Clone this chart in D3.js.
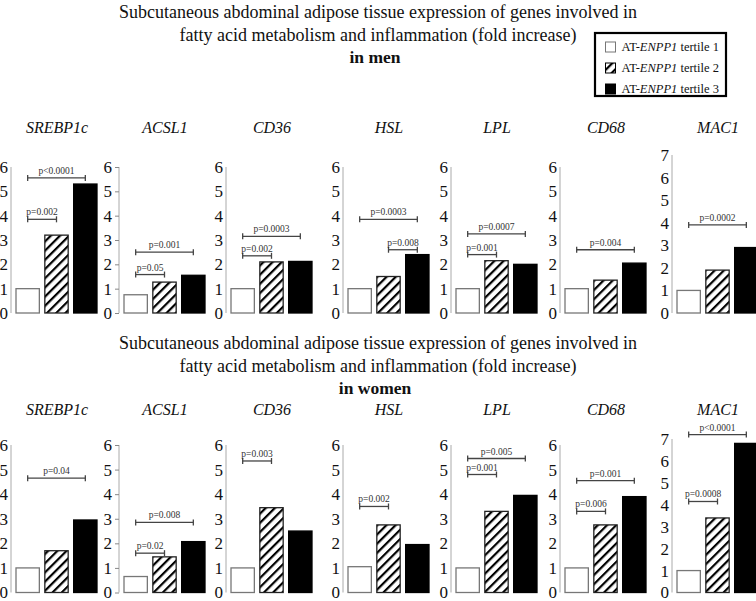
<!DOCTYPE html>
<html>
<head>
<meta charset="utf-8">
<script src="https://cdn.jsdelivr.net/npm/d3@7"></script>
<style>
  body { margin: 0; background: #fff; }
  svg text { font-family: "Liberation Serif", "DejaVu Serif", serif !important; }
</style>
</head>
<body>
<div id="chart"></div>
<script>
// genes shown in each row, left to right
const genes = ['SREBP1c', 'ACSL1', 'CD36', 'HSL', 'LPL', 'CD68', 'MAC1']
const axisMax = [6, 6, 6, 6, 6, 6, 7]
const tertiles = ['tertile 1', 'tertile 2', 'tertile 3']

// fold increase per tertile (1, 2, 3) for each gene
const menValues = [
	[1, 3.2, 5.3],
	[0.75, 1.27, 1.55],
	[1, 2.1, 2.12],
	[1, 1.5, 2.4],
	[1, 2.15, 2.0],
	[1, 1.35, 2.05],
	[1, 1.9, 2.9]
]
const womenValues = [
	[1, 1.7, 2.95],
	[0.65, 1.45, 2.07],
	[1, 3.45, 2.5],
	[1.05, 2.75, 1.95],
	[1, 3.3, 3.95],
	[1, 2.75, 3.9],
	[1, 3.4, 6.8]
]

// significance brackets: [gene index, from tertile, to tertile, height, label]
const menTests = [
	[0, 0, 1, 3.85, 'p=0.002'], [0, 0, 2, 5.55, 'p<0.0001'],
	[1, 0, 1, 1.58, 'p=0.05'], [1, 0, 2, 2.5, 'p=0.001'],
	[2, 0, 1, 2.35, 'p=0.002'], [2, 0, 2, 3.15, 'p=0.0003'],
	[3, 1, 2, 2.6, 'p=0.008'], [3, 0, 2, 3.85, 'p=0.0003'],
	[4, 0, 1, 2.4, 'p=0.001'], [4, 0, 2, 3.25, 'p=0.0007'],
	[5, 0, 2, 2.6, 'p=0.004'],
	[6, 0, 2, 3.9, 'p=0.0002']
]
const womenTests = [
	[0, 0, 2, 4.65, 'p=0.04'],
	[1, 0, 1, 1.6, 'p=0.02'], [1, 0, 2, 2.85, 'p=0.008'],
	[2, 0, 1, 5.35, 'p=0.003'],
	[3, 0, 1, 3.5, 'p=0.002'],
	[4, 0, 1, 4.8, 'p=0.001'], [4, 0, 2, 5.45, 'p=0.005'],
	[5, 0, 1, 3.3, 'p=0.006'], [5, 0, 2, 4.55, 'p=0.001'],
	[6, 0, 1, 4.15, 'p=0.0008'], [6, 0, 2, 7.2, 'p<0.0001']
]

const w = 756, h = 601
const axisX = [11, 119, 226, 343, 451, 560, 672]
const tickSize = [0, 4, 0, 0, 0, 0, 0]
const serif = '"Liberation Serif", "DejaVu Serif", serif'

const svg = d3.select('#chart').append('svg')
	.attr('width', w)
	.attr('height', h)

//hatch for tertile 2
svg.append('defs').append('pattern')
	.attr('id', 'hatch')
	.attr('patternUnits', 'userSpaceOnUse')
	.attr('width', 6.5)
	.attr('height', 6.5)
	.attr('patternTransform', 'rotate(45)')
	.call(p => {
		p.append('rect').attr('width', 6.5).attr('height', 6.5).attr('fill', '#fff')
		p.append('line').attr('x1', 0).attr('y1', 0).attr('x2', 0).attr('y2', 6.5)
			.attr('stroke', '#000').attr('stroke-width', 4.4)
	})

const fills = ['#fff', 'url(#hatch)', '#000']
const strokes = ['#777', '#222', '#000']

function drawTitle(y, who) {
	const g = svg.append('g').attr('text-anchor', 'middle').attr('fill', '#111')
		.style('font-family', serif)
	g.append('text').attr('x', 378).attr('y', y).attr('font-size', 18)
		.text('Subcutaneous abdominal adipose tissue expression of genes involved in')
	g.append('text').attr('x', 378).attr('y', y + 23).attr('font-size', 18)
		.text('fatty acid metabolism and inflammation (fold increase)')
	g.append('text').attr('x', 375).attr('y', y + 45).attr('font-size', 17.5)
		.attr('font-weight', 'bold').text(who)
}

function drawRow(values, tests, opts) {
	genes.forEach((gene, gi) => {
		const x0 = axisX[gi]
		const top = axisMax[gi] == 7 ? opts.top7 : opts.top6
		const y = d3.scaleLinear().domain([0, axisMax[gi]]).range([opts.base, top])
		const x = d3.scaleBand().domain(d3.range(3)).range([x0 + 5, x0 + 5 + 27 * 3]).paddingInner(0.19).paddingOuter(0)
		const g = svg.append('g').attr('class', 'panel')

		//gene name
		g.append('text')
			.attr('x', x0 + 46)
			.attr('y', opts.titleY)
			.attr('text-anchor', 'middle')
			.attr('font-size', 16)
			.attr('font-style', 'italic')
			.attr('fill', '#111')
			.style('font-family', serif)
			.text(gene)

		//y axis
		const axis = g.append('g')
			.attr('transform', `translate(${x0},0)`)
			.call(d3.axisLeft(y).ticks(axisMax[gi]).tickFormat(d3.format('d')).tickSize(tickSize[gi]).tickPadding(3))
		axis.attr('font-family', null)
		axis.select('.domain').attr('stroke', '#aaa').attr('stroke-width', 1)
			.attr('d', `M0,${opts.base}V${top}`)
		axis.selectAll('.tick line').attr('stroke', '#888')
		axis.selectAll('.tick text')
			.style('font-family', serif)
			.attr('font-size', 17)
			.attr('fill', '#111')

		//bars
		g.selectAll('.bar')
			.data(values[gi])
			.join('rect')
			.attr('class', 'bar')
			.attr('x', (d, i) => x(i))
			.attr('y', d => y(d))
			.attr('width', x.bandwidth())
			.attr('height', d => opts.base - y(d))
			.attr('fill', (d, i) => fills[i])
			.attr('stroke', (d, i) => strokes[i])
			.attr('stroke-width', 1.3)

		//brackets
		const mid = i => x(i) + x.bandwidth() / 2
		tests.filter(t => t[0] == gi).forEach(t => {
			const by = y(t[3])
			const x1 = mid(t[1]), x2 = mid(t[2])
			const bg = g.append('g').attr('stroke', '#444').attr('stroke-width', 1.3)
			bg.append('line').attr('x1', x1).attr('x2', x2).attr('y1', by).attr('y2', by)
			bg.append('line').attr('x1', x1).attr('x2', x1).attr('y1', by - 3).attr('y2', by + 3)
			bg.append('line').attr('x1', x2).attr('x2', x2).attr('y1', by - 3).attr('y2', by + 3)
			g.append('text')
				.attr('x', (x1 + x2) / 2)
				.attr('y', by - 4)
				.attr('text-anchor', 'middle')
				.attr('font-size', 9.5)
				.attr('fill', '#333')
				.style('font-family', serif)
				.text(t[4])
		})
	})
}

drawTitle(18, 'in men')
drawTitle(349, 'in women')

drawRow(menValues, menTests, { base: 313, top6: 167, top7: 155, titleY: 133 })
drawRow(womenValues, womenTests, { base: 592.5, top6: 445, top7: 439, titleY: 415 })

//legend
const legend = svg.append('g').attr('transform', 'translate(595,33)')
legend.append('rect')
	.attr('width', 131)
	.attr('height', 63)
	.attr('fill', '#fff')
	.attr('stroke', '#000')
	.attr('stroke-width', 2.2)

tertiles.forEach((t, i) => {
	const ly = 14 + i * 21
	legend.append('rect')
		.attr('x', 10.5)
		.attr('y', ly - 5)
		.attr('width', 10)
		.attr('height', 10)
		.attr('fill', fills[i])
		.attr('stroke', i == 0 ? '#777' : '#000')
		.attr('stroke-width', 1)
	const txt = legend.append('text')
		.attr('x', 26.5)
		.attr('y', ly + 4)
		.attr('font-size', 12.5)
		.attr('fill', '#111')
		.style('font-family', serif)
	txt.append('tspan').text('AT-')
	txt.append('tspan').attr('font-style', 'italic').text('ENPP1')
	txt.append('tspan').text(' ' + t)
})
</script>
</body>
</html>
